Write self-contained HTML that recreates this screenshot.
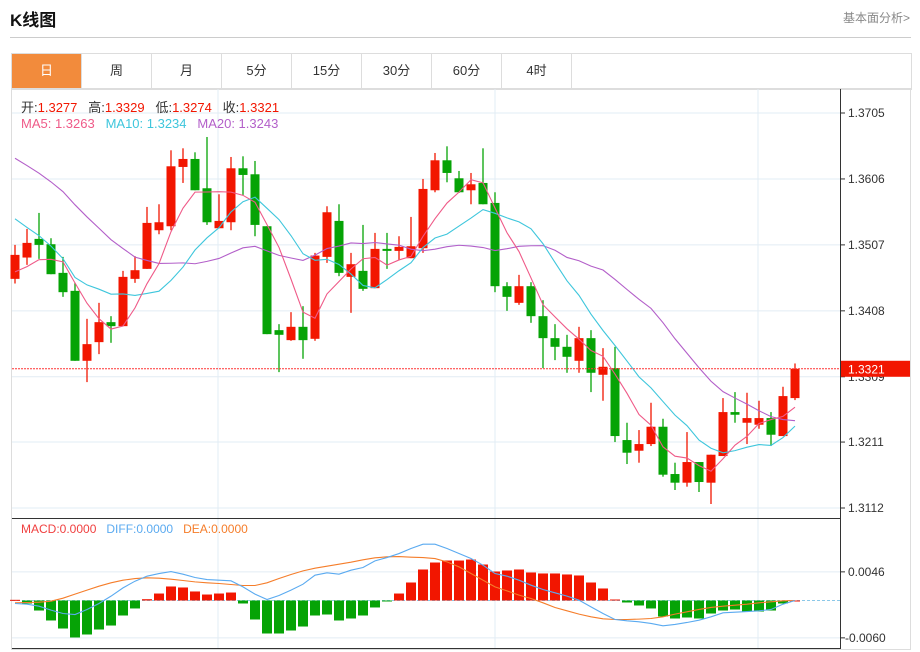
<!DOCTYPE html>
<html><head><meta charset="utf-8"><style>
body{margin:0;background:#fff;width:920px;height:652px;overflow:hidden;font-family:"Liberation Sans","Noto Sans CJK SC",sans-serif;}
.t{position:absolute}
</style></head><body>
<div class="t" style="left:10px;top:6px;font-size:17px;font-weight:bold;color:#111">K线图</div>
<div class="t" style="left:843px;top:9px;font-size:12px;color:#888">基本面分析&gt;</div>
<div class="t" style="left:10px;top:37px;width:901px;height:1px;background:#ccc"></div>
<div class="t" style="left:11px;top:53px;width:899px;height:35px;border:1px solid #ddd;border-bottom:1px solid #ddd"></div>
<div id="tabs"></div>
<svg class="t" style="left:0;top:0" width="920" height="652" id="chart"></svg>
<script>
const tabLabels=['日','周','月','5分','15分','30分','60分','4时'];
const opens=[1.3456,1.3488,1.3516,1.3508,1.3465,1.3438,1.3333,1.3361,1.3391,1.3385,1.3456,1.3471,1.3529,1.3535,1.3624,1.3636,1.3592,1.3532,1.3541,1.3622,1.3613,1.3535,1.3379,1.3364,1.3384,1.3366,1.3489,1.3543,1.3459,1.3468,1.3442,1.3501,1.3498,1.3487,1.3502,1.3589,1.3634,1.3607,1.3589,1.3600,1.3570,1.3445,1.3420,1.3445,1.3400,1.3367,1.3354,1.3333,1.3367,1.3312,1.3322,1.3214,1.3198,1.3208,1.3234,1.3163,1.3150,1.3181,1.3150,1.3190,1.3256,1.3240,1.3237,1.3247,1.3220,1.3277];
const closes=[1.3492,1.3510,1.3507,1.3463,1.3436,1.3333,1.3358,1.3391,1.3385,1.3459,1.3469,1.3540,1.3541,1.3625,1.3636,1.3589,1.3541,1.3543,1.3622,1.3612,1.3537,1.3373,1.3372,1.3384,1.3364,1.3491,1.3556,1.3465,1.3478,1.3441,1.3501,1.3498,1.3504,1.3505,1.3591,1.3634,1.3615,1.3586,1.3598,1.3568,1.3445,1.3429,1.3445,1.3400,1.3367,1.3354,1.3339,1.3367,1.3315,1.3324,1.3220,1.3195,1.3208,1.3234,1.3162,1.3150,1.3181,1.3151,1.3192,1.3256,1.3252,1.3247,1.3247,1.3222,1.3280,1.3321];
const highs=[1.3507,1.3531,1.3555,1.3517,1.3489,1.3450,1.3396,1.3420,1.3400,1.3468,1.3490,1.3564,1.3568,1.3649,1.3652,1.3646,1.3669,1.3583,1.3639,1.3640,1.3633,1.3535,1.3388,1.3406,1.3415,1.3495,1.3565,1.3568,1.3495,1.3537,1.3525,1.3525,1.3520,1.3549,1.3606,1.3645,1.3655,1.3618,1.3615,1.3652,1.3586,1.3451,1.3462,1.3451,1.3424,1.3388,1.3372,1.3384,1.3379,1.3352,1.3354,1.3240,1.3229,1.3270,1.3246,1.3180,1.3226,1.3181,1.3192,1.3277,1.3286,1.3285,1.3273,1.3256,1.3294,1.3329];
const lows=[1.3449,1.3477,1.3486,1.3463,1.3429,1.3333,1.3301,1.3343,1.3360,1.3385,1.3450,1.3471,1.3523,1.3529,1.3600,1.3589,1.3537,1.3532,1.3529,1.3582,1.3520,1.3373,1.3316,1.3363,1.3336,1.3363,1.3480,1.3460,1.3405,1.3438,1.3442,1.3471,1.3484,1.3487,1.3495,1.3586,1.3601,1.3585,1.3568,1.3568,1.3436,1.3408,1.3417,1.3390,1.3322,1.3334,1.3315,1.3315,1.3286,1.3273,1.3211,1.3178,1.3180,1.3205,1.3159,1.3139,1.3144,1.3136,1.3118,1.3190,1.3240,1.3208,1.3231,1.3205,1.3220,1.3274];
const priorCloses=[1.3730,1.3735,1.3725,1.3730,1.3728,1.3722,1.3730,1.3728,1.3725,1.3727,1.3640,1.3630,1.3620,1.3625,1.3615,1.3470,1.3455,1.3460,1.3455];
const priceTicks=[1.3705,1.3606,1.3507,1.3408,1.3309,1.3211,1.3112];
const macdHist=[1.1,-4.8,-16.1,-32.1,-45,-59.4,-54.6,-46.6,-40.2,-24.1,-12.8,2.1,11.2,22.5,20.9,14.5,9.6,11.2,12.8,-4.8,-30.5,-53,-53,-48.2,-41.8,-24.1,-22.5,-32.1,-28.9,-24.1,-11.2,-1.6,11.2,28.9,49.8,61,64.2,64.2,65.8,57.8,46.6,48.2,49.8,45,43.4,43.4,41.8,40.2,28.9,19.3,1.6,-3.2,-8,-12.8,-25.7,-28.9,-27.3,-28.9,-20.9,-16.1,-14.5,-17.7,-17.7,-16.1,-4.8,0];
const diffVals=[-4.8,-5.9,-9.1,-15.5,-20.9,-22.5,-14.4,-4.8,7.0,20.3,31.0,39.1,43.3,46.5,42.3,36.9,33.7,32.6,31.6,21.9,10.2,1.6,8.0,16.6,26.2,40.7,44.4,42.3,48.7,53.0,63.7,69.0,75.4,83.5,90.4,90.4,83.5,75.4,67.4,56.7,43.3,39.1,32.6,24.6,17.7,12.3,7.0,0.5,-10.2,-20.9,-30.5,-32.6,-34.2,-36.9,-40.7,-38.5,-35.3,-31.6,-26.2,-19.8,-18.7,-17.7,-16.6,-14.4,-5.9,0];
const deaVals=[-3.7,-3.2,-2.7,-1.1,3.7,10.2,16.6,23.0,28.4,32.6,35.3,36.4,35.8,34.2,32.1,29.9,28.4,27.3,25.7,24.1,24.1,28.4,35.3,41.7,47.6,51.9,55.1,58.3,61.5,65.3,68.5,70.1,70.6,69.6,69.0,67.4,62.1,54.0,43.3,32.6,21.9,15.5,8.6,3.2,-3.7,-11.2,-16.6,-21.9,-26.2,-29.4,-30.5,-30.5,-29.9,-28.9,-26.2,-21.9,-18.2,-14.4,-11.2,-9.1,-7.5,-5.9,-3.7,-2.1,-0.5,0];
const macdTicks=[46,-60];

const tabsEl=document.getElementById('tabs');
tabLabels.forEach((t,i)=>{
  const d=document.createElement('div');
  d.className='t';
  
  
  d.style.cssText=`left:${12+i*70}px;top:54px;width:69px;height:34px;line-height:34px;text-align:center;font-size:13px;border-right:1px solid #ddd;${i==0?'background:#f28b3c;color:#fff;':'color:#333;'}`;
  d.textContent=t;tabsEl.appendChild(d);
});

const svg=document.getElementById('chart');
const NS='http://www.w3.org/2000/svg';
function el(tag,attrs,parent){const e=document.createElementNS(NS,tag);for(const k in attrs)e.setAttribute(k,attrs[k]);(parent||svg).appendChild(e);return e;}
const yP=p=>113+(1.3705-p)*(395/0.0593);
const xI=i=>15+i*12;
const yM=v=>600.5-v*(66/106);
const RED='#f21600',GREEN='#06a306';

el('rect',{x:11.5,y:88.5,width:899,height:561,fill:'none',stroke:'#ddd'});
priceTicks.forEach(p=>{const g=el('line',{x1:12,x2:840,y1:yP(p),y2:yP(p),stroke:'#e2ecf4'});
});
[218,495,758].forEach(x=>{el('line',{x1:x,x2:x,y1:89,y2:648,stroke:'#e2ecf4'});});
macdTicks.forEach(v=>el('line',{x1:12,x2:840,y1:yM(v),y2:yM(v),stroke:'#e2ecf4'}));
el('line',{x1:840.5,x2:840.5,y1:89,y2:649,stroke:'#333'});
el('line',{x1:12,x2:840,y1:518.5,y2:518.5,stroke:'#333'});
el('line',{x1:12,x2:840,y1:648.5,y2:648.5,stroke:'#333'});
priceTicks.forEach(p=>{
  el('line',{x1:840,x2:845,y1:yP(p),y2:yP(p),stroke:'#333'});
  const t=el('text',{x:848,y:yP(p)+4,'font-size':12,fill:'#333'});t.textContent=p.toFixed(4);
  
});
macdTicks.forEach(v=>{
  const y=yM(v);
  el('line',{x1:840,x2:845,y1:y,y2:y,stroke:'#333'});
  const t=el('text',{x:v>0?848:845,y:y+4,'font-size':12,fill:'#333'});t.textContent=(v/10000).toFixed(4);
  
});

opens.forEach((o,i)=>{
  const c=closes[i],up=c>=o,col=up?RED:GREEN,x=xI(i);
  const g=el('g',{});
  
  
  el('line',{x1:x,x2:x,y1:yP(highs[i]),y2:yP(lows[i]),stroke:col,'stroke-width':1.3},g);
  const top=yP(Math.max(o,c)),bot=yP(Math.min(o,c));
  el('rect',{x:x-4.5,y:top,width:9,height:Math.max(1.5,bot-top),fill:col},g);
});
const all=priorCloses.concat(closes),off=priorCloses.length;
function ma(n,color,name){
  const pts=closes.map((_,i)=>{const s=all.slice(off+i-n+1,off+i+1);return xI(i)+','+yP(s.reduce((a,b)=>a+b,0)/s.length);});
  const p=el('polyline',{points:pts.join(' '),fill:'none',stroke:color,'stroke-width':1.1});
  
}
ma(20,'#b35fc9','ma20-line');ma(10,'#3ec6dc','ma10-line');ma(5,'#ef5a88','ma5-line');
const lp=closes[closes.length-1];
el('line',{x1:12,x2:840,y1:yP(lp),y2:yP(lp),stroke:'#f33','stroke-dasharray':'2,1'});
const lb=el('rect',{x:841,y:yP(lp)-8,width:69,height:16,fill:'#f21600'});

const lt=el('text',{x:848,y:yP(lp)+4.5,'font-size':12,fill:'#fff'});lt.textContent=lp.toFixed(4);

el('line',{x1:12,x2:840,y1:yM(0),y2:yM(0),stroke:'#8cc8e8','stroke-dasharray':'3,2'});
macdHist.forEach((v,i)=>{
  const y0=yM(0),y1=yM(v);
  const r=el('rect',{x:xI(i)-5,y:Math.min(y0,y1),width:10,height:Math.max(1,Math.abs(y1-y0)),fill:v>=0?RED:GREEN});
  
});
function line(arr,color,name){const p=el('polyline',{points:arr.map((v,i)=>xI(i)+','+yM(v)).join(' '),fill:'none',stroke:color,'stroke-width':1.1});
}
line(deaVals,'#f57d2a','dea-line');line(diffVals,'#5aaaf0','diff-line');
</script>
<div class="t" style="left:21px;top:97px;font-size:13px;color:#333;white-space:pre">开:<span style="color:#f21600">1.3277</span>   高:<span style="color:#f21600">1.3329</span>   低:<span style="color:#f21600">1.3274</span>   收:<span style="color:#f21600">1.3321</span></div>
<div class="t" style="left:21px;top:116px;font-size:13px;white-space:pre"><span style="color:#ef5a88">MA5: 1.3263</span>   <span style="color:#3ec6dc">MA10: 1.3234</span>   <span style="color:#b35fc9">MA20: 1.3243</span></div>
<div class="t" style="left:21px;top:522px;font-size:12px;white-space:pre"><span style="color:#f04040">MACD:0.0000</span>   <span style="color:#5aaaf0">DIFF:0.0000</span>   <span style="color:#f57d2a">DEA:0.0000</span></div>
</body></html>
